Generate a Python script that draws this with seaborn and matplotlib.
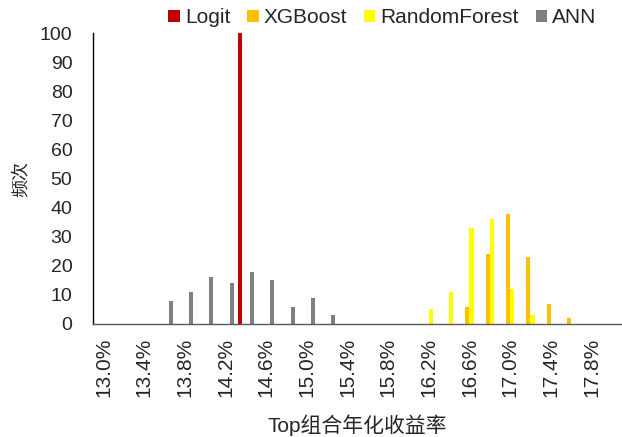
import matplotlib
matplotlib.use("Agg")
import matplotlib.pyplot as plt
import seaborn as sns
import pandas as pd

# ---- data ----
categories = ["13.0%", "13.2%", "13.4%", "13.6%", "13.8%", "14.0%", "14.2%", "14.4%",
              "14.6%", "14.8%", "15.0%", "15.2%", "15.4%", "15.6%", "15.8%", "16.0%",
              "16.2%", "16.4%", "16.6%", "16.8%", "17.0%", "17.2%", "17.4%", "17.6%",
              "17.8%", "18.0%"]
series_names = ["Logit", "XGBoost", "RandomForest", "ANN"]
logit = [0, 0, 0, 0, 0, 0, 0, 100, 0, 0, 0, 0, 0, 0, 0, 0,
         0, 0, 0, 0, 0, 0, 0, 0, 0, 0]
xgboost = [0, 0, 0, 0, 0, 0, 0, 0, 0, 0, 0, 0, 0, 0, 0, 0,
           0, 0, 6, 24, 38, 23, 7, 2, 0, 0]
randomforest = [0, 0, 0, 0, 0, 0, 0, 0, 0, 0, 0, 0, 0, 0, 0, 0,
                5, 11, 33, 36, 12, 3, 0, 0, 0, 0]
ann = [0, 0, 0, 8, 11, 16, 14, 18, 15, 6, 9, 3, 0, 0, 0, 0,
       0, 0, 0, 0, 0, 0, 0, 0, 0, 0]
tick_labels = ["13.0%", "13.4%", "13.8%", "14.2%", "14.6%", "15.0%", "15.4%",
               "15.8%", "16.2%", "16.6%", "17.0%", "17.4%", "17.8%"]
y_ticks = [0, 10, 20, 30, 40, 50, 60, 70, 80, 90, 100]
colors = ["#C00000", "#FFC000", "#FFFF00", "#808080"]

rows = []
for name, vals in zip(series_names, [logit, xgboost, randomforest, ann]):
    for c, v in zip(categories, vals):
        rows.append({"cat": c, "freq": v, "model": name})
df = pd.DataFrame(rows)

sns.set_style("white")
plt.rcParams["font.family"] = ["Liberation Sans", "Noto Sans CJK SC", "DejaVu Sans"]

fig = plt.figure(figsize=(6.22, 4.37), dpi=100)
ax = fig.add_axes([0.150, 0.2586, 0.850, 0.6652])

sns.barplot(data=df, x="cat", y="freq", hue="model", hue_order=series_names,
            order=categories, palette=colors, width=0.8, dodge=True,
            linewidth=0, saturation=1, ax=ax)

handles, labels = ax.get_legend_handles_labels()
ax.get_legend().remove()

ax.set_xlim(-0.5, len(categories) - 0.5)
ax.set_ylim(0, 100)
ax.set_yticks(y_ticks)
ax.set_yticklabels([str(t) for t in y_ticks], fontsize=14)

tick_pos = [categories.index(t) for t in tick_labels]
ax.set_xticks(tick_pos)
ax.set_xticklabels(tick_labels, rotation=90, fontsize=15)
ax.set_xticks([p - 0.5 for p in tick_pos], minor=True)
ax.tick_params(axis="x", which="major", length=0, pad=10)
ax.tick_params(axis="x", which="minor", length=5, direction="out", color="#595959", width=1)
ax.tick_params(axis="y", which="major", length=5, direction="out", color="black", width=1, pad=10)

for s in ["top", "right"]:
    ax.spines[s].set_visible(False)
ax.spines["left"].set_color("black")
ax.spines["bottom"].set_color("#595959")
ax.spines["left"].set_linewidth(1)
ax.spines["bottom"].set_linewidth(1)

ax.set_xlabel("Top组合年化收益率", fontsize=15, labelpad=12)
ax.set_ylabel("频次", fontsize=13, labelpad=7)

fig.legend(handles, labels, loc="center", bbox_to_anchor=(0.615, 0.959), ncol=4,
           frameon=False, fontsize=15, handlelength=0.55, handleheight=0.55,
           handletextpad=0.25, columnspacing=0.8, borderpad=0, borderaxespad=0)

fig.savefig("out.png", dpi=100)
